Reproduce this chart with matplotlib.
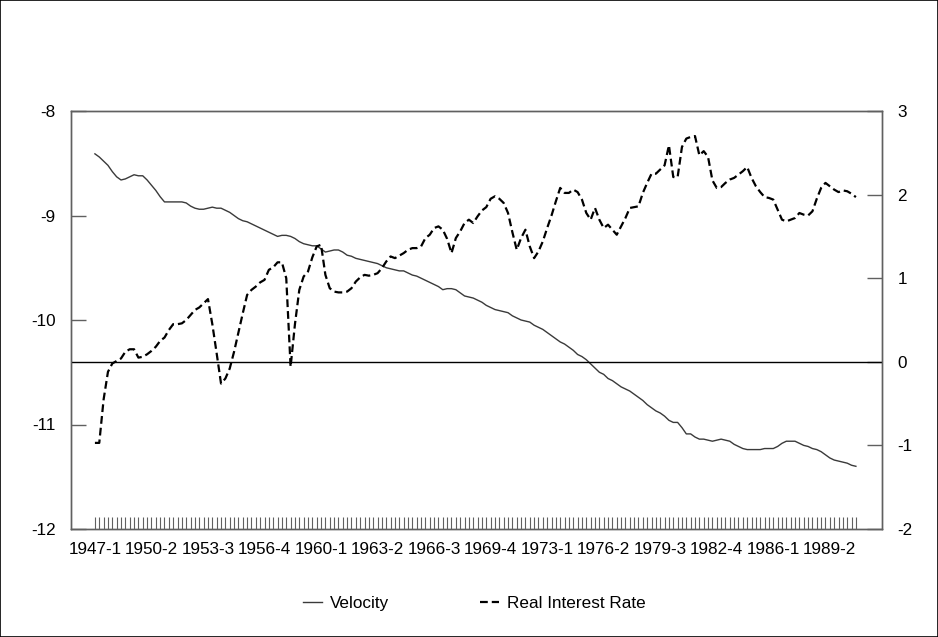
import matplotlib
matplotlib.use("Agg")
import matplotlib.pyplot as plt
from matplotlib.lines import Line2D
from matplotlib.patches import Rectangle
import numpy as np

plt.rcParams['font.family'] = ['Liberation Sans', 'DejaVu Sans']
plt.rcParams['font.size'] = 12.3
plt.rcParams['axes.unicode_minus'] = False

# quarterly data, 1947-1 .. 1990-4
start_year = 1947

velocity = [
    -8.41, -8.44, -8.48, -8.52, -8.58, -8.63, -8.66, -8.65, -8.63, -8.61,
    -8.62, -8.62, -8.66, -8.71, -8.76, -8.82, -8.87, -8.87, -8.87, -8.87,
    -8.87, -8.88, -8.91, -8.93, -8.94, -8.94, -8.93, -8.92, -8.93, -8.93,
    -8.95, -8.97, -9.00, -9.03, -9.05, -9.06, -9.08, -9.10, -9.12, -9.14,
    -9.16, -9.18, -9.20, -9.19, -9.19, -9.20, -9.22, -9.25, -9.27, -9.28,
    -9.29, -9.29, -9.32, -9.35, -9.34, -9.33, -9.33, -9.35, -9.38, -9.39,
    -9.41, -9.42, -9.43, -9.44, -9.45, -9.46, -9.48, -9.50, -9.51, -9.52,
    -9.53, -9.53, -9.55, -9.57, -9.58, -9.60, -9.62, -9.64, -9.66, -9.68,
    -9.71, -9.70, -9.70, -9.71, -9.74, -9.77, -9.78, -9.79, -9.81, -9.83,
    -9.86, -9.88, -9.90, -9.91, -9.92, -9.93, -9.96, -9.98, -10.00, -10.01,
    -10.02, -10.05, -10.07, -10.09, -10.12, -10.15, -10.18, -10.21, -10.23, -10.26,
    -10.29, -10.33, -10.35, -10.38, -10.42, -10.46, -10.50, -10.52, -10.56,
    -10.58, -10.61, -10.64, -10.66, -10.68, -10.71, -10.74, -10.77, -10.81, -10.84,
    -10.87, -10.89, -10.92, -10.96, -10.98, -10.98, -11.03, -11.09, -11.09, -11.12,
    -11.14, -11.14, -11.15, -11.16, -11.15, -11.14, -11.15, -11.16, -11.19, -11.21,
    -11.23, -11.24, -11.24, -11.24, -11.24, -11.23, -11.23, -11.23, -11.21, -11.18,
    -11.16, -11.16, -11.16, -11.18, -11.20, -11.21, -11.23, -11.24, -11.26, -11.29,
    -11.32, -11.34, -11.35, -11.36, -11.37, -11.39, -11.40,
]

real_rate = [
    -0.97, -0.97, -0.45, -0.12, -0.02, 0.01, 0.04, 0.12, 0.15, 0.15,
    0.05, 0.06, 0.09, 0.13, 0.18, 0.25, 0.29, 0.38, 0.45, 0.45,
    0.46, 0.50, 0.56, 0.62, 0.65, 0.70, 0.75, 0.45, 0.10, -0.26,
    -0.20, -0.08, 0.12, 0.35, 0.58, 0.80, 0.86, 0.90, 0.95, 0.98,
    1.10, 1.13, 1.19, 1.19, 1.00, -0.06, 0.45, 0.86, 1.02, 1.08,
    1.25, 1.38, 1.40, 1.04, 0.88, 0.84, 0.83, 0.83, 0.84, 0.88,
    0.96, 1.01, 1.04, 1.03, 1.04, 1.06, 1.12, 1.20, 1.26, 1.24,
    1.27, 1.30, 1.34, 1.36, 1.36, 1.38, 1.48, 1.52, 1.60, 1.62,
    1.58, 1.47, 1.30, 1.48, 1.56, 1.66, 1.70, 1.66, 1.74, 1.81,
    1.85, 1.95, 1.98, 1.95, 1.90, 1.78, 1.55, 1.34, 1.48, 1.58,
    1.38, 1.24, 1.32, 1.44, 1.60, 1.75, 1.92, 2.08, 2.02, 2.02,
    2.06, 2.03, 1.94, 1.78, 1.70, 1.84, 1.70, 1.60, 1.64,
    1.58, 1.52, 1.62, 1.72, 1.84, 1.85, 1.86, 2.02, 2.14, 2.25,
    2.25, 2.30, 2.35, 2.59, 2.21, 2.21, 2.57, 2.67, 2.69, 2.70,
    2.47, 2.52, 2.45, 2.17, 2.08, 2.09, 2.14, 2.18, 2.20, 2.24,
    2.28, 2.33, 2.20, 2.10, 2.03, 1.97, 1.96, 1.94, 1.82, 1.70,
    1.68, 1.70, 1.72, 1.78, 1.76, 1.75, 1.80, 1.95, 2.08, 2.14,
    2.10, 2.06, 2.03, 2.05, 2.04, 2.01, 1.97,
]

n = len(velocity)
quarters = [f"{start_year + i // 4}-{i % 4 + 1}" for i in range(n)]
x = np.arange(n)

fig = plt.figure(figsize=(9.38, 6.37), dpi=100)
ax = fig.add_axes([71 / 938, 108 / 637, 811 / 938, 418 / 637])
ax2 = ax.twinx()

frame = '#606060'
dash = (0, (3.5, 1.8))

ax.plot(x, velocity, color='#3a3a3a', lw=1.0)
ax2.axhline(0, color='black', lw=1.0)
ax2.plot(x[:len(real_rate)], real_rate, color='black', lw=1.6, linestyle=dash)

ax.set_xlim(-5.5, 181)
ax.set_ylim(-12, -8)
ax2.set_ylim(-2, 3)
ax.set_yticks(range(-12, -7))
ax2.set_yticks(range(-2, 4))

ax.set_xticks(x)
ax.set_xticklabels([q if i % 13 == 0 else '' for i, q in enumerate(quarters)])
ax.tick_params(axis='x', direction='in', length=9, width=0.8, color=frame, pad=9)
ax.tick_params(axis='y', direction='in', length=11, width=1.0, color=frame, pad=11)
ax2.tick_params(axis='y', direction='in', length=11, width=1.0, color=frame, pad=11)

for a in (ax, ax2):
    for s in a.spines.values():
        s.set_color(frame)
        s.set_linewidth(1.0)

handles = [Line2D([], [], color='#3a3a3a', lw=1.0),
           Line2D([], [], color='black', lw=1.6, linestyle=dash)]
fig.legend(handles, ['Velocity', 'Real Interest Rate'], loc='center',
           bbox_to_anchor=(0.506, 0.053), ncol=2, frameon=False,
           handlelength=1.1, handletextpad=0.5, columnspacing=5.3)

fig.patches.append(Rectangle((0, 0), 1, 1, transform=fig.transFigure,
                             fill=False, edgecolor='black', lw=1.2))

fig.savefig('out.png', dpi=100)
